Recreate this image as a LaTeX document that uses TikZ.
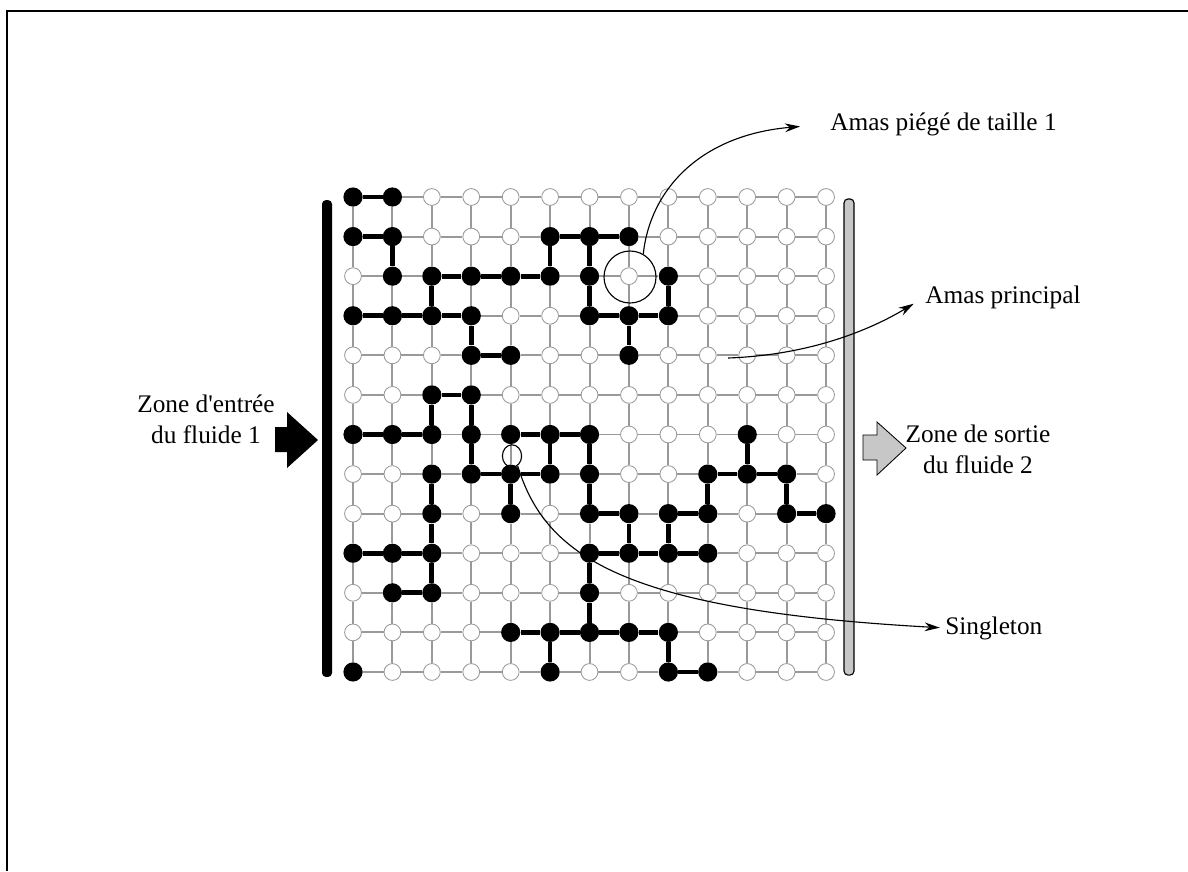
\documentclass[tikz,border=0pt]{standalone}
\usepackage{fontspec}
\setmainfont{Liberation Serif}
\usetikzlibrary{arrows.meta,shapes.geometric}

\begin{document}
\begin{tikzpicture}[
    x=0.025cm, y=-0.025cm,
    poreW/.style={
        circle,
        draw=black!40,
        fill=white,
        line width=0.6pt,
        inner sep=0pt,
        minimum size=0.42cm
    },
    poreB/.style={
        circle,
        fill=black,
        inner sep=0pt,
        minimum size=0.48cm
    },
    gridline/.style={draw=black!40, line width=1.4pt},
    bond/.style={draw=black, line width=3.4pt},
    txt/.style={font=\fontsize{18}{22}\selectfont, inner sep=0pt},
    marker/.style={draw=black, line width=0.8pt, inner sep=0pt},
    pointer/.style={draw=black, line width=0.8pt, -{Stealth[length=0.38cm, width=0.22cm]}}
]
\useasboundingbox (0,0) rectangle (1188,871);

% Cadre
\draw[line width=1pt] (7,871) -- (7,11) -- (1188,11);

% Pores
\foreach \c in {0,...,12}
    \foreach \r in {0,...,12}
        \node[poreW] (n-\c-\r) at ({353+39.42*\c},{197+39.58*\r}) {};

% Pores envahis
\foreach \c/\r in {0/0,1/0,
    0/1,1/1,5/1,6/1,7/1,
    1/2,2/2,3/2,4/2,5/2,6/2,8/2,
    0/3,1/3,2/3,3/3,6/3,7/3,8/3,
    3/4,4/4,7/4,
    2/5,3/5,
    0/6,1/6,2/6,3/6,4/6,5/6,6/6,10/6,
    2/7,3/7,4/7,5/7,6/7,9/7,10/7,11/7,
    2/8,4/8,6/8,7/8,8/8,9/8,11/8,12/8,
    0/9,1/9,2/9,6/9,7/9,8/9,9/9,
    1/10,2/10,6/10,
    4/11,5/11,6/11,7/11,8/11,
    0/12,5/12,8/12,9/12}
    \node[poreB] (n-\c-\r) at ({353+39.42*\c},{197+39.58*\r}) {};

% Reseau
\foreach \c in {0,...,12}
    \foreach \r [count=\s from 1] in {0,...,11} {
        \draw[gridline] (n-\c-\r) -- (n-\c-\s);
        \draw[gridline] (n-\r-\c) -- (n-\s-\c);
    }

% Liens envahis
\foreach \a/\b/\c/\d in {0/0/1/0, 0/1/1/1, 5/1/6/1, 6/1/7/1,
    2/2/3/2, 3/2/4/2, 4/2/5/2, 0/3/1/3, 1/3/2/3, 2/3/3/3,
    6/3/7/3, 7/3/8/3, 3/4/4/4, 2/5/3/5, 0/6/1/6, 1/6/2/6,
    4/6/5/6, 5/6/6/6, 3/7/4/7, 4/7/5/7, 9/7/10/7, 10/7/11/7,
    6/8/7/8, 8/8/9/8, 11/8/12/8, 0/9/1/9, 1/9/2/9, 6/9/7/9,
    7/9/8/9, 8/9/9/9, 1/10/2/10, 4/11/5/11, 5/11/6/11,
    6/11/7/11, 7/11/8/11, 8/12/9/12,
    1/1/1/2, 5/1/5/2, 6/1/6/2, 6/2/6/3, 8/2/8/3, 2/2/2/3,
    3/3/3/4, 7/3/7/4, 2/5/2/6, 3/5/3/6, 3/6/3/7, 5/6/5/7,
    6/6/6/7, 6/7/6/8, 10/6/10/7, 2/7/2/8, 4/7/4/8, 9/7/9/8,
    11/7/11/8, 2/8/2/9, 2/9/2/10, 7/8/7/9, 8/8/8/9,
    6/9/6/10, 6/10/6/11, 5/11/5/12, 8/11/8/12}
    \draw[bond] (n-\a-\b) -- (n-\c-\d);

% Entree / sortie
\node[fill=black, rounded corners=0.1cm, inner sep=0pt,
    minimum width=0.25cm, minimum height=11.92cm] (barIn) at (327,438.5) {};
\node[draw=black, fill=black!22, line width=0.8pt, rounded corners=0.1cm, inner sep=0pt,
    minimum width=0.25cm, minimum height=11.9cm] (barOut) at (849,437) {};
\fill (275,427) -- (287,427) -- (287,412) -- (318,440) -- (287,468) -- (287,452) -- (275,452) -- cycle;
\filldraw[fill=black!22, draw=black, line width=0.6pt]
    (863,435) -- (877,435) -- (877,422) -- (906,448) -- (877,475) -- (877,460) -- (863,460) -- cycle;

\node[txt, align=center] (lblIn) at (206,419) {Zone d\textquotesingle entrée\\du fluide 1};
\node[txt, align=center] (lblOut) at (978,449) {Zone de sortie\\du fluide 2};

% Annotations
\node[txt, anchor=base west] (lblTrap) at (830,130) {Amas piégé de taille 1};
\node[txt, anchor=base west] (lblMain) at (925,303) {Amas principal};
\node[txt, anchor=base west] (lblSingle) at (945,634) {Singleton};

\node[marker, circle, minimum size=1.3cm] (trap) at (630,277) {};
\node[marker, ellipse, minimum width=0.48cm, minimum height=0.56cm] (single) at (512,456) {};
\coordinate (mainPt) at (728,358);

\draw[pointer, shorten >=0.75cm] (trap.60) .. controls (650,190) and (700,135) .. (lblTrap.west);
\draw[pointer, shorten >=0.33cm] (mainPt) .. controls (810,355) and (870,330) .. (lblMain.west);
\draw[pointer, shorten >=0.13cm] (single.-60) .. controls (545,555) and (620,610) .. (lblSingle.west);

\end{tikzpicture}
\end{document}
